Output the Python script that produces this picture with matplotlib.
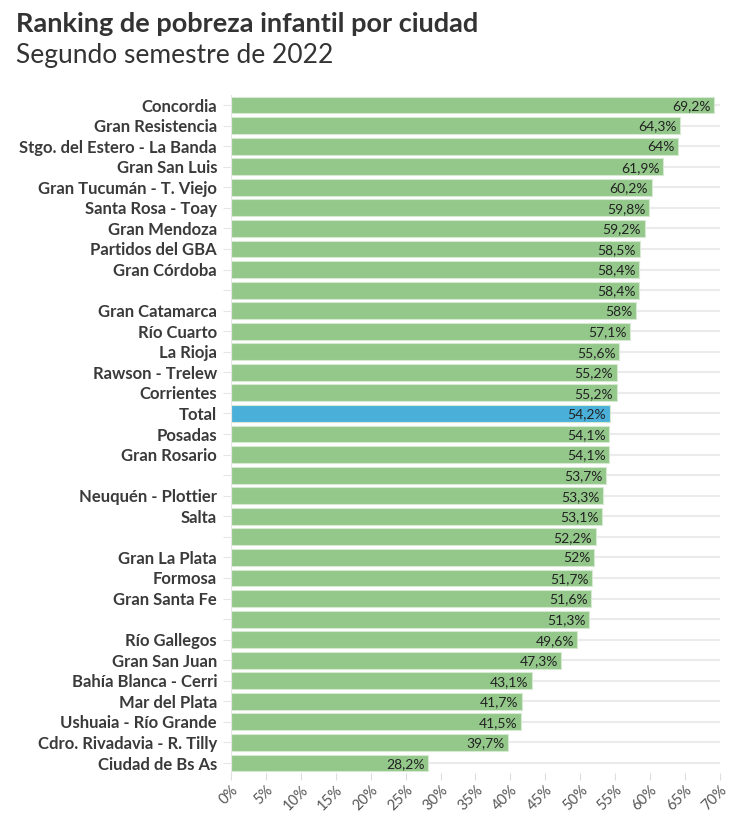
import numpy as np
import matplotlib.pyplot as plt

# Data (top to bottom as in the chart)
ciudades = [
    'Concordia', 'Gran Resistencia', 'Stgo. del Estero - La Banda', 'Gran San Luis',
    'Gran Tucumán - T. Viejo', 'Santa Rosa - Toay', 'Gran Mendoza', 'Partidos del GBA',
    'Gran Córdoba', '', 'Gran Catamarca', 'Río Cuarto', 'La Rioja', 'Rawson - Trelew',
    'Corrientes', 'Total', 'Posadas', 'Gran Rosario', '', 'Neuquén - Plottier', 'Salta',
    '', 'Gran La Plata', 'Formosa', 'Gran Santa Fe', '', 'Río Gallegos', 'Gran San Juan',
    'Bahía Blanca - Cerri', 'Mar del Plata', 'Ushuaia - Río Grande',
    'Cdro. Rivadavia - R. Tilly', 'Ciudad de Bs As',
]
pobreza = [
    69.2, 64.3, 64.0, 61.9, 60.2, 59.8, 59.2, 58.5, 58.4, 58.4, 58.0, 57.1, 55.6, 55.2,
    55.2, 54.2, 54.1, 54.1, 53.7, 53.3, 53.1, 52.2, 52.0, 51.7, 51.6, 51.3, 49.6, 47.3,
    43.1, 41.7, 41.5, 39.7, 28.2,
]

plt.rcParams['font.family'] = ['Lato', 'DejaVu Sans']

fig = plt.figure(figsize=(7.42, 8.16), dpi=100)
ax = fig.add_axes([0.3113, 0.0523, 0.6590, 0.8316])

y = np.arange(len(ciudades))
colors = ['#4ab0d9' if c == 'Total' else '#94c88b' for c in ciudades]

# light grid lines behind each bar
for yi in y:
    ax.axhline(yi, color='#ebebeb', lw=1.5, zorder=0)

ax.barh(y, pobreza, height=0.82, color=colors, edgecolor='#d5ead1', linewidth=0.8, zorder=2)

def fmt(v):
    s = f'{v:.1f}'.rstrip('0').rstrip('.')
    return s.replace('.', ',') + '%'

for yi, v in zip(y, pobreza):
    ax.text(v - 0.5, yi + 0.05, fmt(v), ha='right', va='center', fontsize=10,
            color='#222222', zorder=3)

ax.set_yticks(y)
ax.set_yticklabels(ciudades, fontsize=12, fontweight='bold', color='#3a3a3a')
ax.set_ylim(len(ciudades) - 0.5, -0.5)
ax.set_xlim(0, 70)
ax.set_xticks(np.arange(0, 71, 5))
ax.set_xticklabels([f'{t}%' for t in range(0, 71, 5)], rotation=45, ha='right',
                   rotation_mode='anchor', fontsize=10.5, color='#555555')
ax.tick_params(axis='y', length=6, color='#e6e6e6', pad=4)
ax.tick_params(axis='x', length=5, color='#dddddd', pad=2)

for side in ['top', 'right', 'bottom']:
    ax.spines[side].set_visible(False)
ax.spines['left'].set_color('#e6e6e6')

fig.text(0.0216, 0.985, 'Ranking de pobreza infantil por ciudad', fontsize=19.5,
         fontweight='bold', color='#333333', va='top')
fig.text(0.0216, 0.947, 'Segundo semestre de 2022', fontsize=19, color='#333333',
         va='top')

fig.savefig('out.png', dpi=100)
